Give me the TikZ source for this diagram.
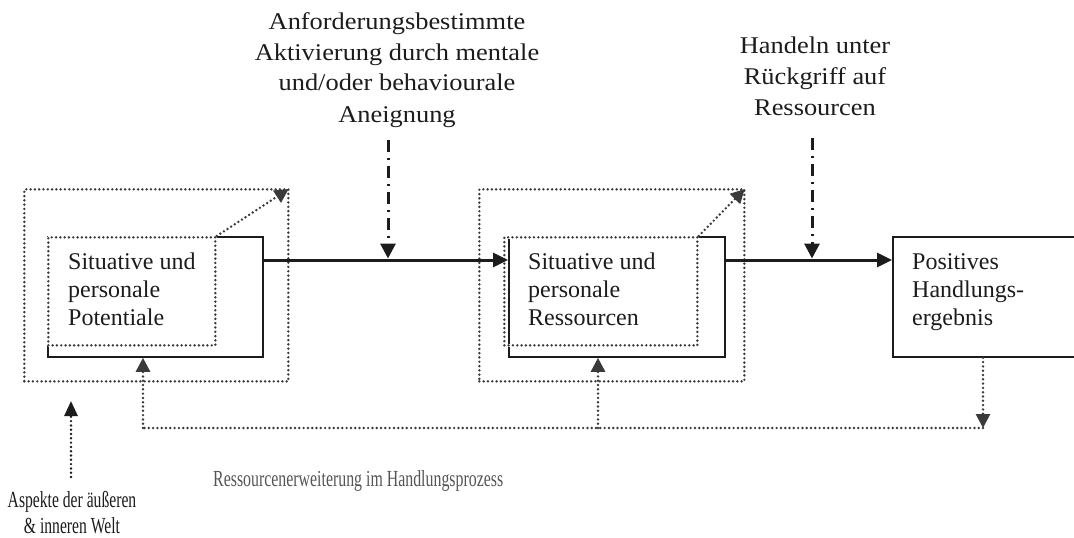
\documentclass[tikz,border=0pt]{standalone}
\usepackage{fontspec}
\setmainfont{Liberation Serif}
\usepackage{graphicx}
\usetikzlibrary{arrows.meta,calc}

\definecolor{ink}{HTML}{1C1C1C}
\definecolor{dotgray}{HTML}{3A3A3A}
\definecolor{softgray}{HTML}{555555}

% horizontally scaled, centred multi-line text block
\newcommand{\hstretch}[2]{\scalebox{#1}[1]{\begin{tabular}[t]{@{}c@{}}#2\end{tabular}}}

\begin{document}
\begin{tikzpicture}[x=1pt,y=-1pt,
  box/.style={draw=ink, line width=1.8pt, rectangle, inner sep=0pt, anchor=north west},
  dotframe/.style={draw=dotgray, line width=2.7pt, line cap=round, line join=round,
    dash pattern=on 0pt off 4.3pt, rectangle, inner sep=0pt, anchor=north west},
  coverframe/.style={dotframe, preaction={draw=white, line width=3.4pt, solid}},
  boxtext/.style={inner sep=0pt, anchor=base west, align=left, text=ink,
    font=\fontsize{24}{28}\selectfont},
  toptext/.style={inner sep=0pt, anchor=base, text=ink, font=\fontsize{24}{31}\selectfont},
  flow/.style={draw=ink, line width=3pt, -{Triangle[length=15pt,width=14pt]}},
  trigger/.style={draw=ink, line width=3pt, dash pattern=on 12pt off 6pt on 2pt off 6pt,
    -{Triangle[length=15pt,width=15pt]}},
  feedback/.style={draw=dotgray, line width=2.7pt, line cap=round,
    dash pattern=on 0pt off 4.3pt},
  feedarrow/.style={feedback, -{Triangle[length=14pt,width=14pt,fill=dotgray]}},
  inputarrow/.style={draw=ink, line width=2.7pt, line cap=round,
    dash pattern=on 0pt off 4.3pt, -{Triangle[length=15pt,width=13pt,fill=ink]}}
]
\useasboundingbox (0,0) rectangle (1074,538);
\clip (0,0) rectangle (1074,538);

% outer dotted frames
\node[dotframe, minimum width=264pt, minimum height=192pt] (out1) at (23,188) {};
\node[dotframe, minimum width=265pt, minimum height=192pt] (out2) at (478,188) {};

% solid boxes
\node[box, minimum width=215pt, minimum height=120pt] (b1) at (47,236) {};
\node[box, minimum width=216pt, minimum height=120pt] (b2) at (508,236) {};
\node[box, minimum width=220pt, minimum height=120pt] (b3) at (892,236) {};

% inner dotted frames
\node[coverframe, minimum width=167pt, minimum height=108pt] (in1) at (47,236) {};
\node[coverframe, minimum width=193pt, minimum height=108pt] (in2) at (503,236) {};

% box texts (anchored at the baseline of the last line)
\node[boxtext] (t1) at (68,325) {Situative und\\personale\\Potentiale};
\node[boxtext] (t2) at (528,325) {Situative und\\personale\\Ressourcen};
\node[boxtext] (t3) at (912,325) {Positives\\Handlungs-\\ergebnis};

% expansion arrows from inner to outer frame
\draw[feedarrow] (in1.north east) -- ([xshift=-1pt,yshift=-1pt]out1.north east);
\draw[feedarrow] (in2.north east) -- ([xshift=-1pt,yshift=-1pt]out2.north east);

% main flow
\coordinate (s1) at ([yshift=-24pt]b1.north east);
\coordinate (s2) at ([yshift=-24pt]b2.north east);
\draw[flow] (s1) -- (s1 -| b2.west);
\draw[flow] (s2) -- (s2 -| b3.west);

% triggering labels
\node[toptext] (lab1) at (397,29) {\hstretch{1.1}{Anforderungsbestimmte\\Aktivierung durch mentale\\und/oder behaviourale\\Aneignung}};
\node[toptext] (lab2) at (815,53) {\hstretch{1.1}{Handeln unter\\Rückgriff auf\\Ressourcen}};
\coordinate (d1) at (388,140);
\coordinate (d2) at (812,138);
\draw[trigger] (d1) -- ([yshift=1.5pt]d1 |- s1);
\draw[trigger] (d2) -- ([yshift=1.5pt]d2 |- s2);

% feedback loop
\coordinate (f1) at (143,428);
\coordinate (f2) at (598,428);
\coordinate (f3) at (983,428);
\draw[feedarrow] (f3 |- b3.south) -- (f3);
\draw[feedback] (f3) -- (f1);
\draw[feedarrow] (f1) -- (f1 |- b1.south);
\draw[feedarrow] (f2) -- (f2 |- b2.south);

% outer input
\coordinate (a0) at (71,477);
\coordinate (a1) at (71,401);
\draw[inputarrow] (a0) -- (a1);
\node[inner sep=0pt, anchor=base, text=ink, font=\fontsize{23}{26}\selectfont] (lab3) at (72,507)
  {\hstretch{0.68}{Aspekte der äußeren\\\& inneren Welt}};

\node[inner sep=0pt, anchor=base west, text=softgray, font=\fontsize{23}{26}\selectfont] (lab4) at (213,486)
  {\scalebox{0.69}[1]{Ressourcenerweiterung im Handlungsprozess}};
\end{tikzpicture}
\end{document}
